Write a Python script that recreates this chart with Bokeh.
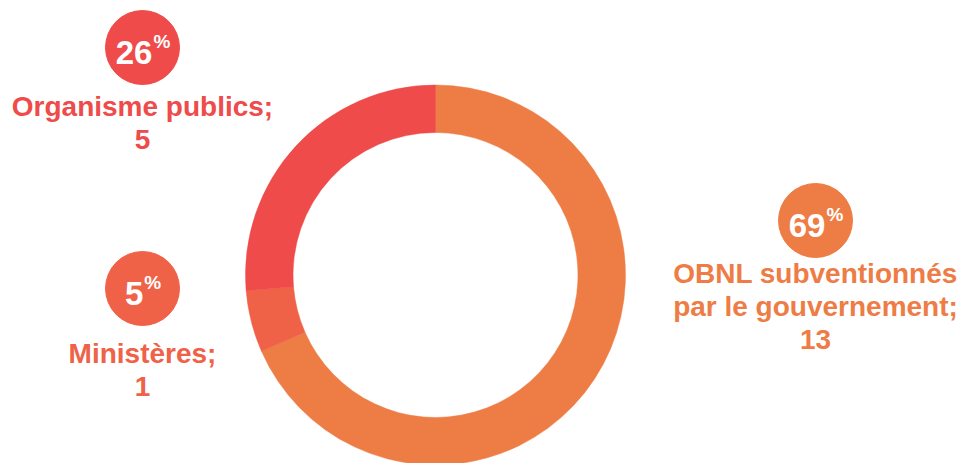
import numpy as np
from bokeh.plotting import figure
from bokeh.models import Range1d
from bokeh.core.properties import value
from bokeh.embed import file_html
from bokeh.resources import INLINE

# ---- data ----
categories = ["OBNL subventionnés par le gouvernement", "Ministères", "Organisme publics"]
counts = [13, 1, 5]
percents = [69, 5, 26]
name_lines = [["OBNL subventionnés", "par le gouvernement;"], ["Ministères;"], ["Organisme publics;"]]
colors = ["#EE7C45", "#EF6248", "#EE4B4A"]

# ---- layout (pixel positions, y measured from top) ----
W, H = 965, 463
CX, CY = 435, 274.5
R_OUT, R_IN = 190, 142.5
badge_pos = [(815, 220), (142, 288), (142, 47)]
label_first_baseline = [282, 362, 115]
LINE_STEP = 33
BADGE_R = 37
FONT = "Liberation Sans"
NUM_SIZE, PCT_SIZE, LBL_SIZE = 33, 19, 28
SHIFT = 9  # svg baseline correction

p = figure(width=W, height=H, x_range=Range1d(0, W), y_range=Range1d(0, H),
           toolbar_location=None, output_backend="svg", min_border=0,
           background_fill_color="white", border_fill_color="white")
p.outline_line_color = None
p.xaxis.visible = False
p.yaxis.visible = False
p.grid.visible = False

def Y(ypix):
    return H - ypix

def YT(ypix):
    return H - (ypix - SHIFT)

# donut, clockwise from 12 o'clock
total = float(sum(counts))
fr = np.array(counts) / total
cum = np.concatenate([[0], np.cumsum(fr)])
start = np.pi / 2 - 2 * np.pi * cum[:-1]
end = np.pi / 2 - 2 * np.pi * cum[1:]
p.annular_wedge(x=[CX] * 3, y=[Y(CY)] * 3, inner_radius=R_IN, outer_radius=R_OUT,
                start_angle=list(start), end_angle=list(end), direction="clock",
                fill_color=colors, line_color=colors, line_width=0.5)

for i in range(3):
    bx, by = badge_pos[i]
    col = colors[i]
    p.scatter(x=[bx], y=[Y(by)], size=2 * BADGE_R, marker="circle",
              fill_color=col, line_color=col)
    num = str(percents[i])
    w_num = 0.556 * NUM_SIZE * len(num)
    w_pct = 0.889 * PCT_SIZE
    bnd = bx - (w_num + w_pct) / 2 + w_num
    p.text(x=[bnd], y=[YT(by + 14)], text=[num], text_align="right",
           text_baseline="alphabetic", text_color="white",
           text_font=value(FONT), text_font_style="bold",
           text_font_size=f"{NUM_SIZE}px")
    p.text(x=[bnd + 1], y=[YT(by + 3)], text=["%"], text_align="left",
           text_baseline="alphabetic", text_color="white",
           text_font=value(FONT), text_font_style="bold",
           text_font_size=f"{PCT_SIZE}px")
    lines = name_lines[i] + [str(counts[i])]
    for j, ln in enumerate(lines):
        p.text(x=[bx], y=[YT(label_first_baseline[i] + j * LINE_STEP)], text=[ln],
               text_align="center", text_baseline="alphabetic", text_color=col,
               text_font=value(FONT), text_font_style="bold",
               text_font_size=f"{LBL_SIZE}px")

open("out.html", "w").write(file_html(p, INLINE))
